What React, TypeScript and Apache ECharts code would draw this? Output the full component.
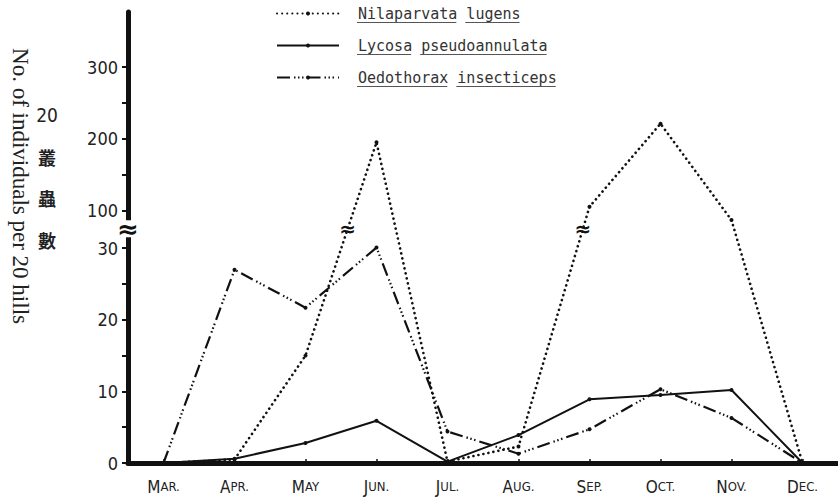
import React, { useEffect, useRef } from 'react';
import * as echarts from 'echarts';

const months = ['Mar.', 'Apr.', 'May', 'Jun.', 'Jul.', 'Aug.', 'Sep.', 'Oct.', 'Nov.', 'Dec.'];
const seriesNames = ['Nilaparvata lugens', 'Lycosa pseudoannulata', 'Oedothorax insecticeps'];
const nilaparvata = [0, 0.5, 15, 195, 0.2, 2.3, 105, 221, 82, 0];
const lycosa = [0, 0.6, 2.8, 5.9, 0.2, 3.9, 8.9, 9.5, 10.2, 0];
const oedothorax = [0, 27, 21.7, 30.1, 4.4, 1.3, 4.7, 10.3, 6.3, 0];
const yLabelValues = [0, 10, 20, 30, 100, 200, 300];
const yTickValues = [0, 5, 10, 15, 20, 25, 30, 100, 150, 200, 250, 300];
const yTitle = 'No. of individuals per 20 hills';
const yTitleCJK = ['20', '叢', '蟲', '數'];

// broken axis: 0-30 on the lower scale, 100-300 on a scale ten times smaller
const LOW_MAX = 30;
const HIGH_MIN = 100;
const GAP = 5.3;
const HIGH_SCALE = 0.1;
const toAxis = (v: number) =>
  v <= LOW_MAX
    ? v
    : v < HIGH_MIN
    ? LOW_MAX + ((v - LOW_MAX) * GAP) / (HIGH_MIN - LOW_MAX)
    : LOW_MAX + GAP + (v - HIGH_MIN) * HIGH_SCALE;
const fromAxis = (d: number) =>
  d <= LOW_MAX
    ? d
    : d < LOW_MAX + GAP
    ? LOW_MAX + ((d - LOW_MAX) * (HIGH_MIN - LOW_MAX)) / GAP
    : HIGH_MIN + (d - LOW_MAX - GAP) / HIGH_SCALE;

const INK = '#111';
const narrow = "'DejaVu Sans Condensed', 'Liberation Sans Narrow', 'DejaVu Sans', sans-serif";
const mono = "'DejaVu Sans Mono', 'Liberation Mono', monospace";

export default function App() {
  const ref = useRef<HTMLDivElement>(null);
  useEffect(() => {
    if (!ref.current) return;
    const chart = echarts.init(ref.current, undefined, { renderer: 'svg' });
    const legendLeft = 276;
    const legendTop = 6;
    const itemW = 62;
    const itemH = 5;
    const itemGap = 17;
    const rowStep = 32;
    const fontSize = 15;
    const option: any = {
      animation: false,
      backgroundColor: '#fff',
      grid: { left: 128, right: -4, top: 12, bottom: 37, containLabel: false },
      legend: {
        orient: 'vertical',
        left: legendLeft,
        top: legendTop,
        padding: 0,
        itemWidth: itemW,
        itemHeight: itemH,
        itemGap,
        data: seriesNames,
        textStyle: { fontFamily: mono, fontSize, color: '#333', padding: [0, 0, 0, 14] },
      },
      xAxis: {
        type: 'category',
        data: months,
        boundaryGap: true,
        axisLine: { lineStyle: { color: INK, width: 5 } },
        axisTick: { show: true, alignWithLabel: true, inside: true, length: 4, lineStyle: { color: INK, width: 1.5 } },
        axisLabel: {
          interval: 0,
          margin: 15,
          color: '#222',
          formatter: (v: string) => `{a|${v[0]}}{b|${v.slice(1).toUpperCase()}}`,
          rich: {
            a: { fontFamily: narrow, fontSize: 17, color: '#222' },
            b: { fontFamily: narrow, fontSize: 13, color: '#222' },
          },
        },
        splitLine: { show: false },
      },
      yAxis: {
        type: 'value',
        min: 0,
        max: 63,
        axisLine: { show: true, lineStyle: { color: INK, width: 5 } },
        axisTick: { show: true, inside: false, length: 6, customValues: yTickValues.map(toAxis), lineStyle: { color: INK, width: 2 } },
        axisLabel: {
          customValues: yLabelValues.map(toAxis),
          formatter: (d: number) => String(Math.round(fromAxis(d))),
          margin: 10,
          fontSize: 18,
          fontFamily: narrow,
          color: '#222',
        },
        splitLine: { show: false },
      },
      series: [
        {
          name: seriesNames[0],
          type: 'line',
          data: nilaparvata.map(toAxis),
          symbol: 'circle',
          symbolSize: 4,
          itemStyle: { color: INK },
          lineStyle: { color: INK, width: 2.6, type: [0.1, 5], cap: 'round' },
          z: 3,
        },
        {
          name: seriesNames[1],
          type: 'line',
          data: lycosa,
          symbol: 'circle',
          symbolSize: 4,
          itemStyle: { color: INK },
          lineStyle: { color: INK, width: 2 },
          z: 3,
        },
        {
          name: seriesNames[2],
          type: 'line',
          data: oedothorax,
          symbol: 'circle',
          symbolSize: 4,
          itemStyle: { color: INK },
          lineStyle: { color: INK, width: 2.2, type: [13, 4, 1.5, 2.5, 1.5, 2.5, 1.5, 4] },
          z: 3,
        },
      ],
    };
    chart.setOption(option);

    const px = (i: number, d: number) => chart.convertToPixel({ xAxisIndex: 0, yAxisIndex: 0 }, [i, d]) as number[];
    const graphics: any[] = [];

    // y axis break
    const breakMid = LOW_MAX + GAP / 2;
    const yb = px(0, breakMid)[1];
    const axisX = px(0, 0)[0] - (px(1, 0)[0] - px(0, 0)[0]) / 2;
    graphics.push({ type: 'rect', shape: { x: axisX - 8, y: yb - 9, width: 16, height: 17 }, style: { fill: '#fff' }, z: 100 });
    graphics.push({
      type: 'text', x: axisX, y: yb, z: 101,
      style: { text: '≈', fontSize: 26, fontWeight: 'bold', fontFamily: 'DejaVu Sans', fill: INK, align: 'center', verticalAlign: 'middle' },
    });

    // break marks on the Nilaparvata line where it crosses the gap
    const series = nilaparvata.map(toAxis);
    for (let i = 0; i < series.length - 1; i++) {
      const a = series[i];
      const b = series[i + 1];
      if (a < breakMid && b > breakMid) {
        const t = (breakMid - a) / (b - a);
        const p0 = px(i, a);
        const p1 = px(i + 1, b);
        graphics.push({
          type: 'text', x: p0[0] + t * (p1[0] - p0[0]), y: p0[1] + t * (p1[1] - p0[1]), z: 50,
          style: { text: '≈', fontSize: 20, fontWeight: 'bold', fontFamily: 'DejaVu Sans', fill: INK, align: 'center', verticalAlign: 'middle' },
        });
      }
    }

    // legend underlines (per word)
    const cw = fontSize * 0.602;
    const textX = legendLeft + itemW + 5 + 14;
    seriesNames.forEach((name, r) => {
      const y = legendTop + 7.5 + r * rowStep + 9;
      let idx = 0;
      name.split(' ').forEach((w) => {
        graphics.push({
          type: 'line', z: 10,
          shape: { x1: textX + idx * cw, y1: y, x2: textX + (idx + w.length) * cw, y2: y },
          style: { stroke: '#555', lineWidth: 1 },
        });
        idx += w.length + 1;
      });
    });

    // axis titles
    graphics.push({
      type: 'text', x: 20, y: 186, rotation: -Math.PI / 2,
      style: { text: yTitle, fontSize: 23, fontFamily: "'Liberation Serif', serif", fill: '#222', align: 'center', verticalAlign: 'middle' },
    });
    const cjkY = [115, 157, 198, 240];
    yTitleCJK.forEach((t, i) => {
      graphics.push({
        type: 'text', x: 47, y: cjkY[i],
        style: {
          text: t, fontSize: i === 0 ? 19 : 18,
          fontFamily: i === 0 ? narrow : "'Noto Sans CJK TC', 'Noto Sans CJK SC', sans-serif",
          fontWeight: i === 0 ? 'normal' : 'bold',
          fill: '#222', align: 'center', verticalAlign: 'middle',
        },
      });
    });

    chart.setOption({ graphic: graphics });
    return () => chart.dispose();
  }, []);
  return <div ref={ref} style={{ position: 'fixed', left: 0, top: 0, width: 838, height: 500 }} />;
}
